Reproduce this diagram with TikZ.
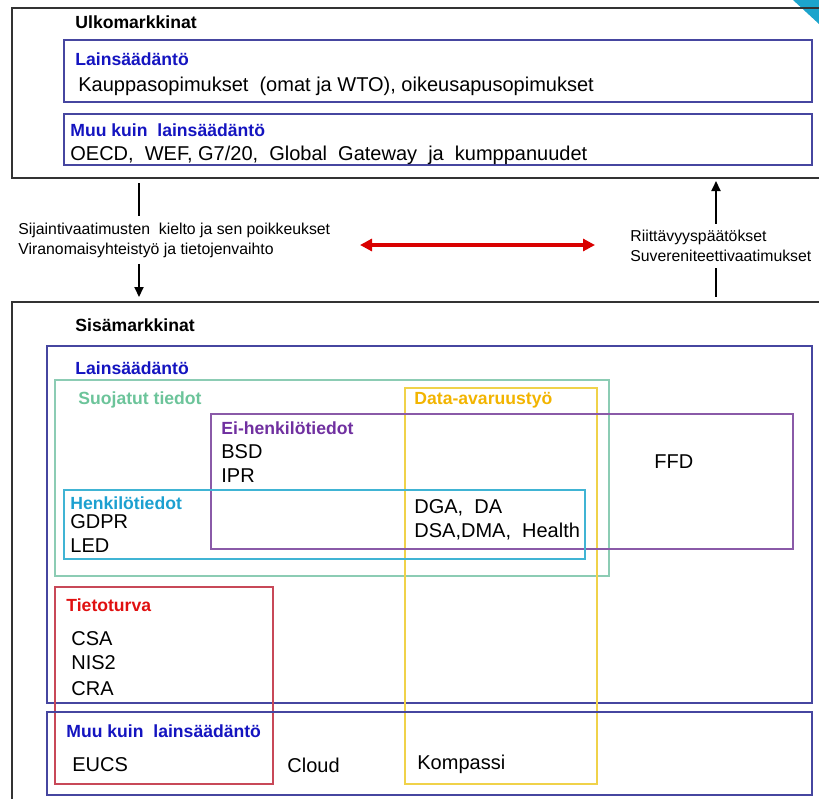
\documentclass[tikz,border=0pt]{standalone}
\usepackage{fontspec}
\setmainfont{Liberation Sans}
\usepackage{xcolor}
\usetikzlibrary{arrows.meta, positioning}

\definecolor{lawblue}{HTML}{1414C0}
\definecolor{navyline}{HTML}{4646A0}
\definecolor{suojagreen}{HTML}{6CC49A}
\definecolor{suojaline}{HTML}{8CCCB4}
\definecolor{datayellow}{HTML}{F2B400}
\definecolor{dataline}{HTML}{F0D24A}
\definecolor{eipurple}{HTML}{7030A0}
\definecolor{eiline}{HTML}{8A5AA8}
\definecolor{henkcyan}{HTML}{1CA0D0}
\definecolor{henkline}{HTML}{40B4D4}
\definecolor{tietored}{HTML}{E01010}
\definecolor{tietoline}{HTML}{C84858}
\definecolor{cornercyan}{HTML}{1CA4CC}

\begin{document}
\begin{tikzpicture}[x=0.5pt, y=-0.5pt,
    txt/.style={anchor=west, inner sep=0pt, font=\fontsize{10}{12}\selectfont},
    head/.style={anchor=west, inner sep=0pt, font=\fontsize{8.8}{10}\selectfont\bfseries},
    note/.style={anchor=west, inner sep=0pt, align=left, font=\fontsize{7.9}{10}\selectfont},
    outer/.style={draw=black!80, line width=0.8pt},
    inner/.style={line width=0.7pt}]
    \useasboundingbox (0, 0) rectangle (819, 798);
    \fill[cornercyan] (793, 0) -- (819, 0) -- (819, 24) -- cycle;

    % Ulkomarkkinat
    \draw[outer] (12, 8) rectangle (830, 178);
    \node[head] (ulko) at (75, 22) {Ulkomarkkinat};
    \draw[inner, navyline] (64, 40) rectangle (812, 102);
    \node[head, lawblue] (ulkolaki) at (75, 59) {Lainsäädäntö};
    \node[txt] (kauppa) at (78, 86) {Kauppasopimukset\ \ (omat ja WTO), oikeusapusopimukset};
    \draw[inner, navyline] (64, 114) rectangle (812, 165);
    \node[head, lawblue] (ulkomuu) at (70, 130) {Muu kuin\ \ lainsäädäntö};
    \node[txt] (oecd) at (70, 155) {OECD,\ \ WEF,\ G7/20,\ \ Global\ \ Gateway\ \ ja\ \ kumppanuudet};

    % arrows between markets
    \coordinate (ulkoL) at (139, 183);
    \coordinate (ulkoR) at (716, 181);
    \coordinate (sisaL) at (139, 297);
    \coordinate (sisaR) at (716, 297);
    \node[note] (sijainti) at (18, 240) {Sijaintivaatimusten\ \ kielto ja sen poikkeukset\\Viranomaisyhteistyö ja tietojenvaihto};
    \node[note] (riitt) at (630, 246) {Riittävyyspäätökset\\Suvereniteettivaatimukset};
    \coordinate (redL) at (360, 245);
    \coordinate (redR) at (595, 245);
    \draw[line width=1pt]
    (ulkoL) -- ([yshift=3pt]ulkoL |- sijainti.north)
    ([yshift=-3pt]riitt.south -| sisaR) -- (sisaR);
    \draw[line width=1pt, -{Triangle[length=5pt, width=4.5pt]}]
    ([yshift=-3pt]sijainti.south -| sisaL) -- (sisaL);
    \draw[line width=1pt, -{Triangle[length=5pt, width=4.5pt]}]
    ([yshift=3pt]riitt.north -| ulkoR) -- (ulkoR);
    \draw[red!85!black, line width=1.6pt, {Triangle[length=6pt, width=6pt]}-{Triangle[length=6pt, width=6pt]}]
    (redL) -- (redR);

    % Sisämarkkinat
    \draw[outer] (12, 302) rectangle (830, 810);
    \node[head] (sisa) at (75, 325) {Sisämarkkinat};
    \draw[inner, navyline] (47, 346) rectangle (812, 703);
    \node[head, lawblue] (sisalaki) at (75, 368) {Lainsäädäntö};

    \draw[inner, suojaline] (55, 380) rectangle (609, 576);
    \node[head, suojagreen] (suoja) at (78, 400) {Suojatut tiedot};
    \draw[inner, dataline] (405, 388) rectangle (597, 784);
    \node[head, datayellow] (data) at (414, 400) {Data-avaruustyö};
    \draw[inner, eiline] (211, 414) rectangle (793, 549);
    \node[head, eipurple] (eihenk) at (221, 428) {Ei-henkilötiedot};
    \node[txt] (bsd) at (221, 452) {BSD};
    \node[txt] (ipr) at (221, 476) {IPR};
    \node[txt] (ffd) at (654, 462) {FFD};
    \draw[inner, henkline] (64, 490) rectangle (585, 559);
    \node[head, henkcyan] (henk) at (70, 503) {Henkilötiedot};
    \node[txt] (gdpr) at (70, 522) {GDPR};
    \node[txt] (led) at (70, 546) {LED};
    \node[txt] (dga) at (414, 508) {DGA,\ \ DA};
    \node[txt] (dsa) at (414, 532) {DSA,DMA,\ \ Health};

    \draw[inner, tietoline] (55, 587) rectangle (273, 784);
    \node[head, tietored] (tieto) at (66, 605) {Tietoturva};
    \node[txt] (csa) at (71, 639) {CSA};
    \node[txt] (nis) at (71, 663) {NIS2};
    \node[txt] (cra) at (71, 689) {CRA};

    \draw[inner, navyline] (47, 712) rectangle (812, 795);
    \node[head, lawblue] (sisamuu) at (66, 731) {Muu kuin\ \ lainsäädäntö};
    \node[txt] (eucs) at (72, 765) {EUCS};
    \node[txt] (cloud) at (287, 765) {Cloud};
    \node[txt] (kompassi) at (417, 764) {Kompassi};
\end{tikzpicture}
\end{document}
